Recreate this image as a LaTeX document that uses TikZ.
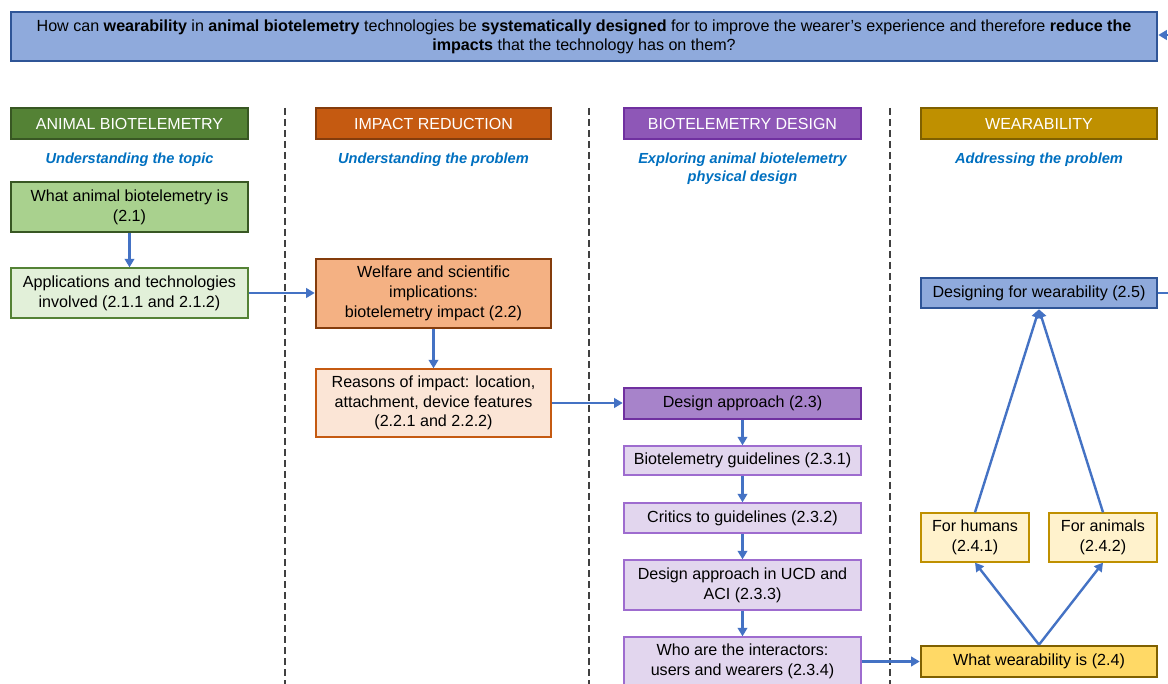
\documentclass[tikz,border=0pt]{standalone}
\usepackage{fontspec}
\setmainfont{Liberation Sans}
\usetikzlibrary{arrows.meta}
\definecolor{qfill}{HTML}{8FAADC}
\definecolor{qdraw}{HTML}{2F5597}
\definecolor{gA}{HTML}{548235}
\definecolor{gB}{HTML}{385723}
\definecolor{gC}{HTML}{A9D18E}
\definecolor{gD}{HTML}{E2F0D9}
\definecolor{oA}{HTML}{C55A11}
\definecolor{oB}{HTML}{843C0C}
\definecolor{oC}{HTML}{F4B183}
\definecolor{oD}{HTML}{FBE5D6}
\definecolor{pA}{HTML}{8E57B7}
\definecolor{pB}{HTML}{7030A0}
\definecolor{pC}{HTML}{A783CA}
\definecolor{pD}{HTML}{E2D6EE}
\definecolor{pE}{HTML}{9E6CCF}
\definecolor{yA}{HTML}{BF9000}
\definecolor{yB}{HTML}{7F6000}
\definecolor{yC}{HTML}{FFD966}
\definecolor{yD}{HTML}{FFF2CC}
\definecolor{subblue}{HTML}{0070C0}
\definecolor{arrblue}{HTML}{4472C4}
\definecolor{dashgray}{HTML}{404040}
\begin{document}
\begin{tikzpicture}[x=1pt,y=-1pt,
  box/.style={rectangle, align=center, inner sep=0pt, font=\fontsize{16.1}{19.8}\selectfont},
  thickbox/.style={box, line width=2.6pt},
  thinbox/.style={box, line width=1.3pt},
  hdr/.style={box, line width=2pt, text=white, minimum height=31pt, font=\fontsize{16}{18}\selectfont},
  sub/.style={align=center, inner sep=0pt, text=subblue, font=\fontsize{14.6}{18}\selectfont\bfseries\itshape},
  arr/.style={draw=arrblue, line width=2.4pt, -{Triangle[length=8.5pt,width=9.5pt]}},
  sepline/.style={draw=dashgray, line width=1.1pt, dash pattern=on 7pt off 4pt}
]
\useasboundingbox (0,0) rectangle (1168,684);
\fill[white] (0,0) rectangle (1168,684);

% separators
\draw[sepline] (285,108) -- (285,684);
\draw[sepline] (589,108) -- (589,684);
\draw[sepline] (890,108) -- (890,684);

% question
\node[box, line width=2.6pt, fill=qfill, draw=qdraw, minimum width=1146pt, minimum height=49pt,
      font=\fontsize{16.1}{19}\selectfont] (q) at (584,36.5)
  {How can \textbf{wearability} in \textbf{animal biotelemetry} technologies be \textbf{systematically designed} for to improve the wearer’s experience and therefore \textbf{reduce the}\\
   \textbf{impacts} that the technology has on them?};

% headers
\node[hdr, fill=gA, draw=gB, minimum width=237pt] (h1) at (129.5,123.5) {ANIMAL BIOTELEMETRY};
\node[hdr, fill=oA, draw=oB, minimum width=235pt] (h2) at (433.5,123.5) {IMPACT REDUCTION};
\node[hdr, fill=pA, draw=pB, minimum width=237pt] (h3) at (742.5,123.5) {BIOTELEMETRY DESIGN};
\node[hdr, fill=yA, draw=yB, minimum width=236pt] (h4) at (1039,123.5) {WEARABILITY};

% subtitles
\node[sub] (s1) at (129.5,160) {Understanding the topic};
\node[sub] (s2) at (433.5,160) {Understanding the problem};
\node[sub] (s3) at (742.5,169) {Exploring animal biotelemetry\\physical design};
\node[sub] (s4) at (1039,160) {Addressing the problem};

% column 1
\node[thickbox, fill=gC, draw=gB, minimum width=237pt, minimum height=50pt] (n21) at (129.5,207)
  {What animal biotelemetry is\\(2.1)};
\node[thinbox, fill=gD, draw=gA, minimum width=237pt, minimum height=50pt] (n211) at (129.5,293)
  {Applications and technologies\\involved (2.1.1 and 2.1.2)};

% column 2
\node[thickbox, fill=oC, draw=oB, minimum width=235pt, minimum height=69pt] (n22) at (433.5,293.5)
  {Welfare and scientific\\implications:\\biotelemetry impact (2.2)};
\node[thinbox, fill=oD, draw=oA, minimum width=235pt, minimum height=68pt] (n221) at (433.5,403)
  {Reasons of impact: location,\\attachment, device features\\(2.2.1 and 2.2.2)};

% column 3
\node[thickbox, fill=pC, draw=pB, minimum width=237pt, minimum height=31pt] (n23) at (742.5,403.5)
  {Design approach (2.3)};
\node[thinbox, fill=pD, draw=pE, minimum width=237pt, minimum height=29pt] (n231) at (742.5,460.5)
  {Biotelemetry guidelines (2.3.1)};
\node[thinbox, fill=pD, draw=pE, minimum width=237pt, minimum height=30pt] (n232) at (742.5,518)
  {Critics to guidelines (2.3.2)};
\node[thinbox, fill=pD, draw=pE, minimum width=237pt, minimum height=50pt] (n233) at (742.5,585)
  {Design approach in UCD and\\ACI (2.3.3)};
\node[thinbox, fill=pD, draw=pE, minimum width=237pt, minimum height=49pt] (n234) at (742.5,661.5)
  {Who are the interactors:\\users and wearers (2.3.4)};

% column 4
\node[thickbox, fill=qfill, draw=qdraw, minimum width=236pt, minimum height=30pt] (n25) at (1039,293)
  {Designing for wearability (2.5)};
\node[thinbox, fill=yD, draw=yA, minimum width=108pt, minimum height=49pt] (n241) at (975,537.5)
  {For humans\\(2.4.1)};
\node[thinbox, fill=yD, draw=yA, minimum width=108pt, minimum height=49pt] (n242) at (1103,537.5)
  {For animals\\(2.4.2)};
\node[thickbox, fill=yC, draw=yB, minimum width=236pt, minimum height=31pt] (n24) at (1039,661.5)
  {What wearability is (2.4)};

\coordinate (qin) at (1170,35);
\coordinate (out25) at (1170,293);

% connectors
\draw[arr] (n21.south) -- (n211.north);
\draw[arr] (n211.east) -- (n22.west |- n211.east);
\draw[arr] (n22.south) -- (n221.north);
\draw[arr] (n221.east) -- (n23.west |- n221.east);
\draw[arr] (n23.south) -- (n231.north);
\draw[arr] (n231.south) -- (n232.north);
\draw[arr] (n232.south) -- (n233.north);
\draw[arr] (n233.south) -- (n234.north);
\draw[arr] (n234.east) -- (n24.west);
\draw[arr] (n24.north) -- (n241.south);
\draw[arr] (n24.north) -- (n242.south);
\draw[arr] (n241.north) -- (n25.south);
\draw[arr] (n242.north) -- (n25.south);
\draw[draw=arrblue, line width=2.4pt] (n25.east) -- (out25);
\draw[arr] (qin) -- (q.east |- qin);
\end{tikzpicture}
\end{document}
